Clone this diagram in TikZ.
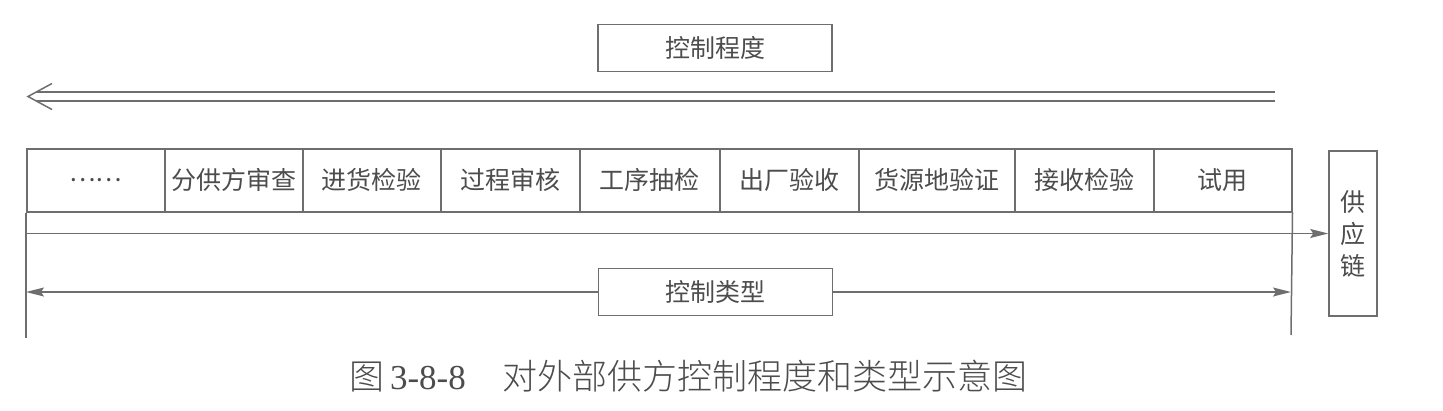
\documentclass[tikz,border=0pt]{standalone}
\usepackage{fontspec}
\setmainfont{Liberation Serif}
\newfontfamily\cjk{Noto Sans CJK SC}
\newfontfamily\cjkcap{Noto Sans CJK SC Light}
\usetikzlibrary{arrows.meta}
\definecolor{ln}{HTML}{6E6E6E}
\definecolor{tx}{HTML}{4C4C4C}
\tikzset{
  lbl/.style={font=\cjk\fontsize{25}{30}\selectfont, text=tx},
  cellbox/.style={lbl, draw=ln, line width=1.5pt, minimum height=63pt, inner sep=0pt, anchor=north west},
  tagbox/.style={lbl, draw=ln, line width=1.5pt, minimum width=234pt, minimum height=47pt, inner sep=0pt},
  wire/.style={draw=ln, line width=1.5pt},
  tip/.style={-{Stealth[length=18pt,width=9pt,inset=3pt]}}
}
\begin{document}
\begin{tikzpicture}[x=1pt,y=-1pt]
\useasboundingbox (0,0) rectangle (1443,410);
% top label and double arrow
\node[tagbox] (deg) at (715,48) {控制程度};
\coordinate (dr) at (1275,96.5);
\coordinate (dl) at (28,96.5);
\draw[wire] ([yshift=-4.5pt]dr) -- ([xshift=8pt,yshift=-4.5pt]dl);
\draw[wire] ([yshift=4.5pt]dr) -- ([xshift=8pt,yshift=4.5pt]dl);
\draw[wire, line join=miter] ([xshift=24pt,yshift=-13pt]dl) -- (dl) -- ([xshift=24pt,yshift=13pt]dl);
% cells
\node[cellbox, minimum width=138pt] (c0) at (26,148) {……};
\node[cellbox, minimum width=138pt] (c1) at (164,148) {分供方审查};
\node[cellbox, minimum width=138pt] (c2) at (302,148) {进货检验};
\node[cellbox, minimum width=139pt] (c3) at (440,148) {过程审核};
\node[cellbox, minimum width=140pt] (c4) at (579,148) {工序抽检};
\node[cellbox, minimum width=139pt] (c5) at (719,148) {出厂验收};
\node[cellbox, minimum width=156pt] (c6) at (858,148) {货源地验证};
\node[cellbox, minimum width=139pt] (c7) at (1014,148) {接收检验};
\node[cellbox, minimum width=138pt] (c8) at (1153,148) {试用};
% supply chain box
\node[lbl, draw=ln, line width=1.5pt, minimum width=48pt, minimum height=165pt, inner sep=0pt, align=center,
      font=\cjk\fontsize{25}{32}\selectfont] (sc) at (1353,233.5) {供\\应\\链};
% vertical lines
\coordinate (vl) at (26,338);
\coordinate (vr) at (1291,335);
\draw[wire] (c0.south west) -- (vl);
\draw[wire] (c8.south east) -- (vr);
% arrow to supply chain
\draw[wire, tip] (sc.west -| vl) -- (sc.west);
% control type
\node[tagbox] (typ) at (715.5,292) {控制类型};
\draw[wire, tip] (typ.west) -- (typ.west -| vl);
\draw[wire, tip] (typ.east) -- (typ.east -| vr);
% caption
\node[text=tx, font=\fontsize{35}{40}\selectfont, anchor=west, inner sep=0pt] (cap) at (349,376)
  {{\cjkcap 图}\,3-8-8\hspace{1.05em}{\cjkcap 对外部供方控制程度和类型示意图}};
\end{tikzpicture}
\end{document}
